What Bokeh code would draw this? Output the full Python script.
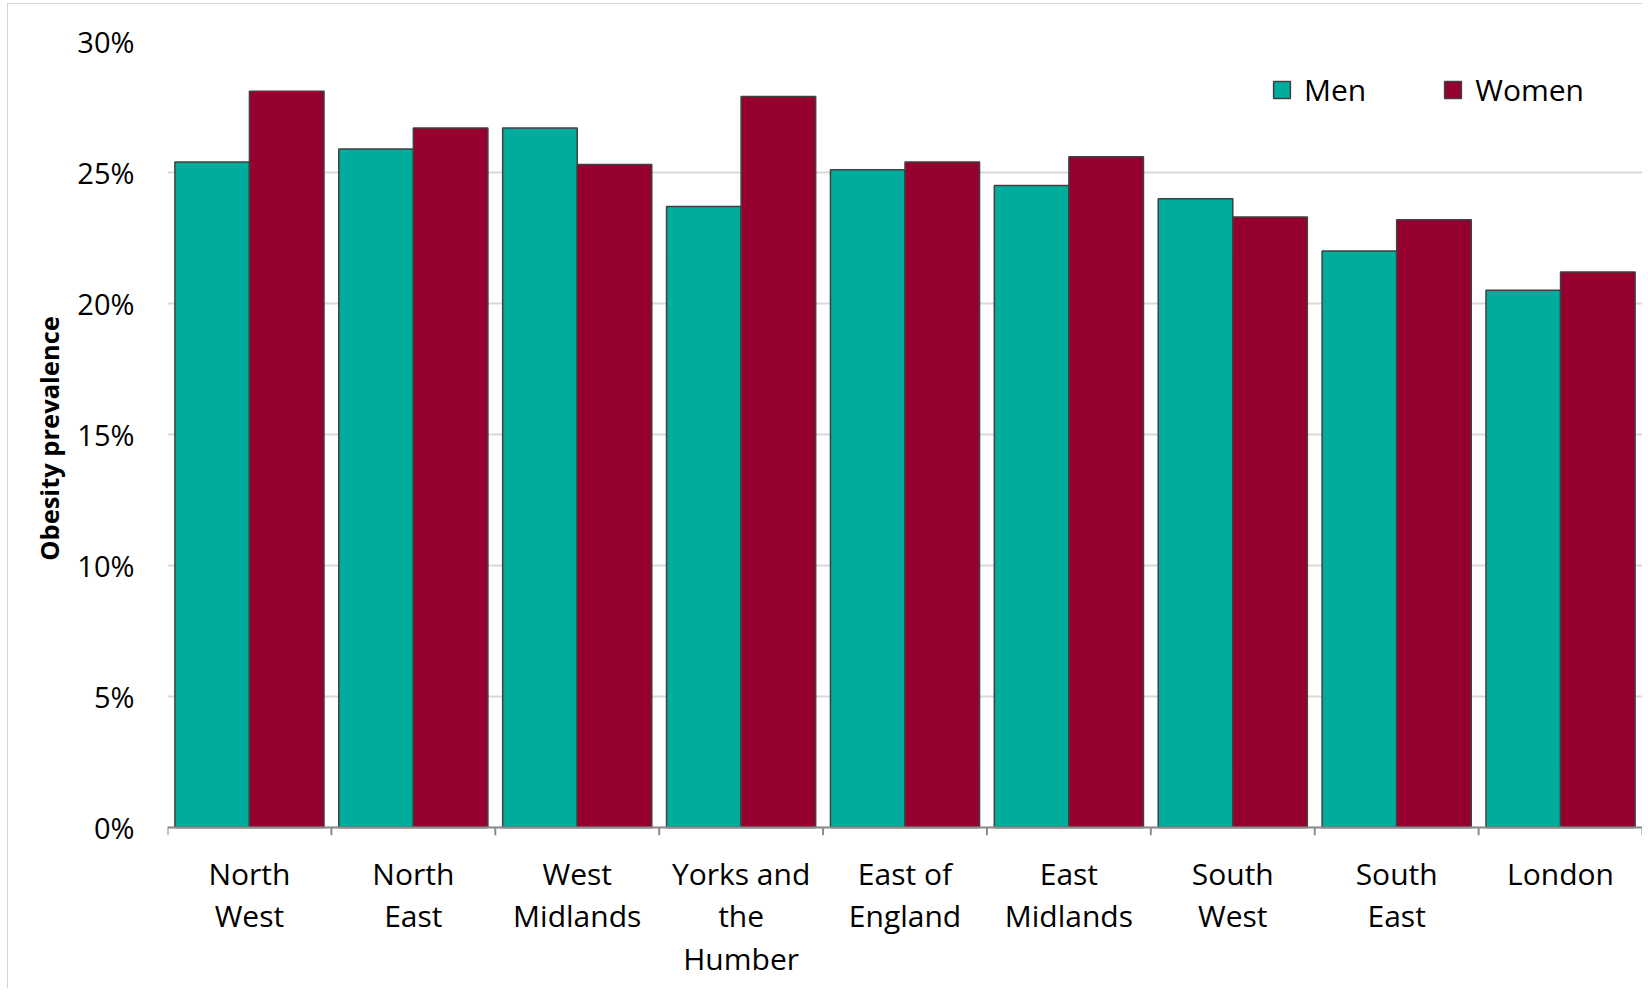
from bokeh.plotting import figure
from bokeh.models import (FactorRange, Range1d, FixedTicker, PrintfTickFormatter,
                          Legend, LegendItem, Span, ColumnDataSource)
from bokeh.transform import dodge
from bokeh.embed import file_html
from bokeh.resources import INLINE

regions = ["North\nWest", "North\nEast", "West\nMidlands", "Yorks and\nthe\nHumber",
           "East of\nEngland", "East\nMidlands", "South\nWest", "South\nEast", "London"]
men = [25.4, 25.9, 26.7, 23.7, 25.1, 24.5, 24.0, 22.0, 20.5]
women = [28.1, 26.7, 25.3, 27.9, 25.4, 25.6, 23.3, 23.2, 21.2]
y_ticks = [0, 5, 10, 15, 20, 25, 30]
series_names = ["Men", "Women"]
colors = ["#00AD9D", "#96002E"]

FONT = "Open Sans"
AXIS_GRAY = "#8c8c8c"
TICK_LEN = 0.31  # in value units (about 8px)

src = ColumnDataSource(dict(region=regions, men=men, women=women,
                            y0=[0] * len(regions), y1=[-TICK_LEN] * len(regions)))

p = figure(x_range=FactorRange(*regions, range_padding=0), y_range=Range1d(-TICK_LEN, 30),
           frame_width=1475, frame_height=794,
           min_border_left=159, min_border_right=0, min_border_top=37, min_border_bottom=153,
           output_backend="svg", toolbar_location=None,
           background_fill_color="white", border_fill_color="white",
           styles={"border-top": "1px solid #d4d4d4", "border-left": "1px solid #d4d4d4",
                   "margin-left": "7px", "margin-top": "3px"})
p.outline_line_color = None
p.xgrid.grid_line_color = None
p.ygrid.grid_line_color = "#d9d9d9"
p.ygrid.grid_line_width = 2
p.ygrid.ticker = FixedTicker(ticks=y_ticks)

bw = 0.455
r_men = p.vbar(x=dodge("region", -bw / 2, range=p.x_range), top="men", bottom="y0", width=bw,
               source=src, fill_color=colors[0], line_color="#404040", line_width=1.5)
r_women = p.vbar(x=dodge("region", bw / 2, range=p.x_range), top="women", bottom="y0", width=bw,
                 source=src, fill_color=colors[1], line_color="#404040", line_width=1.5)

# category-boundary ticks and axis line
p.segment(x0=dodge("region", -0.5, range=p.x_range), y0="y0",
          x1=dodge("region", -0.5, range=p.x_range), y1="y1",
          source=src, line_color=AXIS_GRAY, line_width=2)
last = ColumnDataSource(dict(region=[regions[-1]], y0=[0], y1=[-TICK_LEN]))
p.segment(x0=dodge("region", 0.5, range=p.x_range), y0="y0",
          x1=dodge("region", 0.5, range=p.x_range), y1="y1",
          source=last, line_color=AXIS_GRAY, line_width=2)
p.add_layout(Span(location=0, dimension="width", line_color=AXIS_GRAY, line_width=2))

# y axis
ya = p.yaxis[0]
ya.ticker = FixedTicker(ticks=y_ticks)
ya.formatter = PrintfTickFormatter(format="%d%%")
ya.axis_line_color = None
ya.major_tick_line_color = None
ya.minor_tick_line_color = None
ya.major_label_standoff = 27
ya.major_label_text_font = FONT
ya.major_label_text_font_size = "29px"
ya.major_label_text_color = "#000000"
ya.axis_label = "Obesity prevalence"
ya.axis_label_text_font = FONT
ya.axis_label_text_font_size = "25.5px"
ya.axis_label_text_font_style = "bold"
ya.axis_label_text_color = "#000000"
ya.axis_label_standoff = 8

# x axis (labels only)
xa = p.xaxis[0]
xa.axis_line_color = None
xa.major_tick_line_color = None
xa.minor_tick_line_color = None
xa.major_label_text_font = FONT
xa.major_label_text_font_size = "30px"
xa.major_label_text_color = "#000000"
xa.major_label_text_line_height = 1.04
xa.major_label_standoff = 11

legend = Legend(items=[LegendItem(label=series_names[0], renderers=[r_men]),
                       LegendItem(label=series_names[1], renderers=[r_women])],
                orientation="horizontal", location=(1104, 725),
                label_text_font=FONT, label_text_font_size="30px", label_text_color="#000000",
                glyph_width=21, glyph_height=21, label_standoff=12, spacing=76,
                padding=0, margin=0, border_line_color=None, background_fill_alpha=0)
p.add_layout(legend)

open("out.html", "w").write(file_html(p, INLINE))
